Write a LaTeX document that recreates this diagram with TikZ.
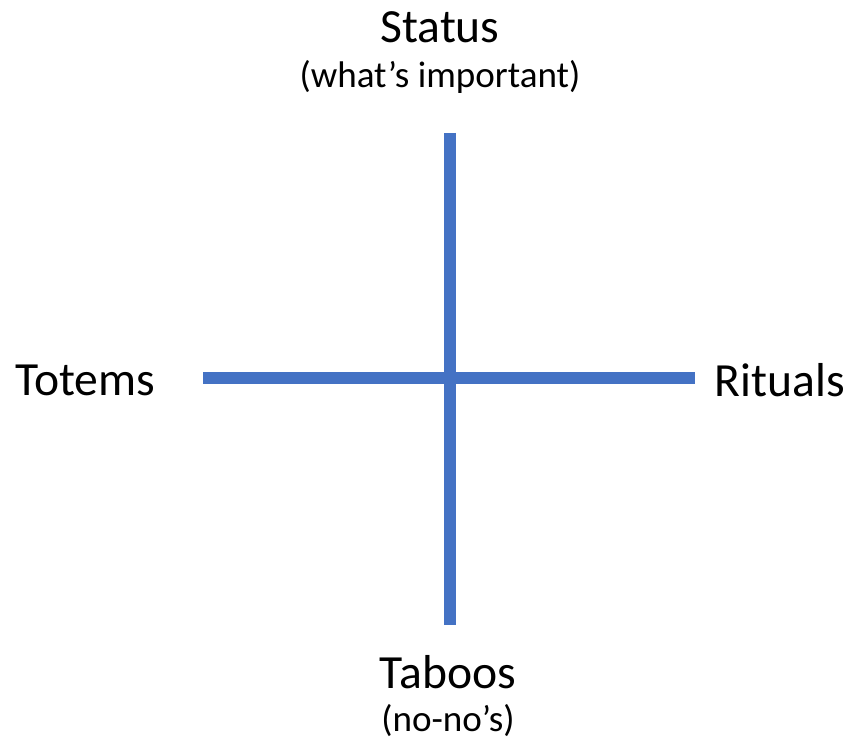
\documentclass[tikz,border=0pt]{standalone}
\usepackage{fontspec}
\setmainfont{Carlito}
\definecolor{axisblue}{HTML}{4472C4}
\begin{document}
\begin{tikzpicture}[x=0.02cm,y=-0.02cm]
\useasboundingbox (0,0) rectangle (848,743);
\tikzset{big/.style={font=\fontsize{27.1}{30}\selectfont},
small/.style={font=\fontsize{21.1}{24}\selectfont},
axis/.style={axisblue, line width=0.24cm}}
\coordinate (top) at (450,133);
\coordinate (bot) at (450,625);
\coordinate (lft) at (203,378);
\coordinate (rgt) at (695,378);
\draw[axis](top) -- (bot);
\draw[axis](lft) -- (rgt);
\node[big] (status) at (440,27){Status};
\node[small] (statussub) at (440,77){(what’s important)};
\node[big] (totems) at (85,380){Totems};
\node[big] (rituals) at (780,380){Rituals};
\node[big] (taboos) at (448,672){Taboos};
\node[small] (taboossub) at (448,721){(no-no’s)};
\end{tikzpicture}
\end{document}
